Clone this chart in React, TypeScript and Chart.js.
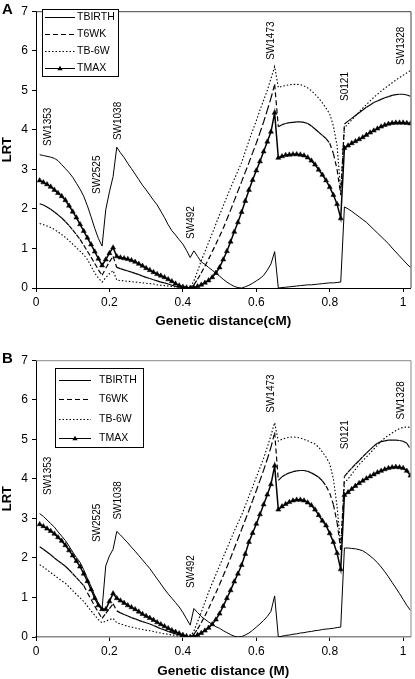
import React, { useEffect, useRef } from "react";
import { Chart, registerables } from "chart.js";

Chart.register(...registerables);

const FONT = "'Liberation Sans', Arial, Helvetica, sans-serif";
Chart.defaults.font.family = FONT;

// genetic distance grid
const distance = [
  0.01, 0.02, 0.03, 0.04, 0.05, 0.06, 0.07, 0.08, 0.09, 0.1,
  0.11, 0.12, 0.13, 0.14, 0.15, 0.16, 0.17, 0.18, 0.19, 0.2,
  0.21, 0.22, 0.23, 0.24, 0.25, 0.26, 0.27, 0.28, 0.29, 0.3,
  0.31, 0.32, 0.33, 0.34, 0.35, 0.36, 0.37, 0.38, 0.39, 0.4,
  0.41, 0.42, 0.43, 0.44, 0.45, 0.46, 0.47, 0.48, 0.49, 0.5,
  0.51, 0.52, 0.53, 0.54, 0.55, 0.56, 0.57, 0.58, 0.59, 0.6,
  0.61, 0.62, 0.63, 0.64, 0.65, 0.66, 0.67, 0.68, 0.69, 0.7,
  0.71, 0.72, 0.73, 0.74, 0.75, 0.76, 0.77, 0.78, 0.79, 0.8,
  0.81, 0.82, 0.83, 0.84, 0.85, 0.86, 0.87, 0.88, 0.89, 0.9,
  0.91, 0.92, 0.93, 0.94, 0.95, 0.96, 0.97, 0.98, 0.99, 1.0,
  1.01, 1.02,
];

const seriesNames = ["TBIRTH", "T6WK", "TB-6W", "TMAX"];

// Panel A (cM)
const aTBIRTH = [
  3.37, 3.35, 3.33, 3.31, 3.28, 3.22, 3.12, 3.02, 2.92, 2.80,
  2.65, 2.50, 2.32, 2.08, 1.80, 1.51, 1.25, 1.06, 1.98, 2.43,
  2.82, 3.56, 3.42, 3.30, 3.15, 3.02, 2.88, 2.74, 2.60, 2.48,
  2.35, 2.22, 2.10, 1.94, 1.78, 1.60, 1.45, 1.34, 1.22, 1.11,
  0.95, 0.77, 0.94, 0.80, 0.66, 0.60, 0.52, 0.45, 0.37, 0.30,
  0.22, 0.15, 0.09, 0.04, 0.01, 0.00, 0.03, 0.07, 0.12, 0.18,
  0.24, 0.32, 0.45, 0.61, 0.92, 0.00, 0.01, 0.02, 0.03, 0.04,
  0.05, 0.06, 0.07, 0.08, 0.08, 0.09, 0.10, 0.11, 0.12, 0.13,
  0.13, 0.14, 0.15, 2.05, 2.00, 1.94, 1.87, 1.80, 1.73, 1.66,
  1.57, 1.48, 1.39, 1.30, 1.21, 1.12, 1.01, 0.91, 0.81, 0.71,
  0.61, 0.52,
];
const aT6WK = [
  2.13, 2.10, 2.05, 1.99, 1.92, 1.85, 1.77, 1.68, 1.58, 1.47,
  1.35, 1.23, 1.08, 0.93, 0.78, 0.62, 0.46, 0.32, 0.50, 0.66,
  0.80, 0.52, 0.49, 0.46, 0.43, 0.40, 0.37, 0.34, 0.30, 0.27,
  0.24, 0.21, 0.18, 0.15, 0.13, 0.10, 0.07, 0.04, 0.02, 0.01,
  0.00, 0.00, 0.08, 0.22, 0.38, 0.55, 0.73, 0.92, 1.11, 1.31,
  1.51, 1.74, 1.97, 2.21, 2.45, 2.69, 2.93, 3.17, 3.42, 3.66,
  3.93, 4.20, 4.50, 4.80, 5.15, 4.08, 4.13, 4.16, 4.18, 4.19,
  4.20, 4.20, 4.19, 4.16, 4.10, 4.02, 3.94, 3.86, 3.78, 3.66,
  3.40, 3.00, 2.35, 4.15, 4.22, 4.29, 4.36, 4.43, 4.50, 4.57,
  4.63, 4.69, 4.73, 4.77, 4.81, 4.84, 4.87, 4.89, 4.90, 4.90,
  4.88, 4.85,
];
const aTB6W = [
  1.63, 1.60, 1.57, 1.53, 1.48, 1.42, 1.35, 1.28, 1.20, 1.11,
  1.02, 0.93, 0.84, 0.72, 0.55, 0.38, 0.25, 0.15, 0.26, 0.36,
  0.44, 0.20, 0.19, 0.18, 0.17, 0.16, 0.15, 0.14, 0.13, 0.12,
  0.11, 0.10, 0.08, 0.07, 0.06, 0.05, 0.04, 0.03, 0.02, 0.01,
  0.00, 0.00, 0.18, 0.42, 0.69, 0.92, 1.15, 1.38, 1.62, 1.85,
  2.08, 2.31, 2.53, 2.75, 2.96, 3.17, 3.45, 3.72, 3.98, 4.23,
  4.50, 4.75, 5.00, 5.30, 5.60, 5.07, 5.10, 5.12, 5.14, 5.15,
  5.15, 5.14, 5.11, 5.06, 4.99, 4.90, 4.80, 4.68, 4.55, 4.40,
  4.10, 3.60, 2.45, 4.05, 4.15, 4.25, 4.35, 4.45, 4.55, 4.64,
  4.73, 4.82, 4.90, 4.98, 5.05, 5.12, 5.19, 5.26, 5.32, 5.38,
  5.44, 5.50,
];
const aTMAX = [
  2.72, 2.67, 2.62, 2.56, 2.48, 2.40, 2.32, 2.22, 2.08, 1.93,
  1.78, 1.61, 1.44, 1.27, 1.10, 0.92, 0.74, 0.57, 0.72, 0.88,
  1.02, 0.80, 0.77, 0.75, 0.73, 0.70, 0.66, 0.61, 0.56, 0.50,
  0.45, 0.40, 0.35, 0.31, 0.27, 0.22, 0.17, 0.11, 0.06, 0.03,
  0.01, 0.00, 0.01, 0.04, 0.08, 0.13, 0.19, 0.27, 0.38, 0.52,
  0.72, 0.93, 1.17, 1.42, 1.66, 1.92, 2.20, 2.48, 2.73, 2.97,
  3.20, 3.45, 3.70, 3.95, 4.43, 3.29, 3.33, 3.36, 3.37, 3.38,
  3.38, 3.37, 3.35, 3.30, 3.22, 3.12, 2.99, 2.86, 2.72, 2.55,
  2.35, 2.12, 1.76, 3.54, 3.60, 3.66, 3.71, 3.76, 3.81, 3.87,
  3.93, 3.98, 4.03, 4.08, 4.12, 4.15, 4.17, 4.18, 4.18, 4.18,
  4.17, 4.16,
];

// Panel B (M)
const bTBIRTH = [
  3.12, 3.05, 2.96, 2.87, 2.78, 2.66, 2.55, 2.44, 2.30, 2.15,
  2.01, 1.89, 1.70, 1.48, 1.28, 1.05, 0.85, 0.72, 1.80, 2.05,
  2.22, 2.67, 2.58, 2.48, 2.38, 2.27, 2.17, 2.06, 1.95, 1.84,
  1.73, 1.60, 1.47, 1.34, 1.21, 1.09, 0.98, 0.87, 0.76, 0.62,
  0.46, 0.30, 0.72, 0.62, 0.52, 0.45, 0.38, 0.32, 0.26, 0.22,
  0.16, 0.11, 0.06, 0.02, 0.00, 0.01, 0.05, 0.10, 0.17, 0.25,
  0.33, 0.42, 0.52, 0.65, 1.04, 0.00, 0.02, 0.04, 0.05, 0.07,
  0.08, 0.10, 0.11, 0.13, 0.14, 0.16, 0.17, 0.19, 0.20, 0.21,
  0.22, 0.24, 0.25, 2.25, 2.25, 2.24, 2.23, 2.21, 2.18, 2.12,
  2.05, 1.97, 1.88, 1.77, 1.65, 1.52, 1.38, 1.24, 1.10, 0.95,
  0.80, 0.67,
];
const bT6WK = [
  2.28, 2.22, 2.15, 2.08, 2.00, 1.93, 1.86, 1.79, 1.70, 1.60,
  1.50, 1.40, 1.30, 1.12, 0.95, 0.78, 0.62, 0.47, 0.60, 0.72,
  0.84, 0.66, 0.61, 0.57, 0.53, 0.49, 0.46, 0.42, 0.39, 0.36,
  0.33, 0.29, 0.25, 0.21, 0.18, 0.14, 0.11, 0.08, 0.05, 0.03,
  0.01, 0.00, 0.07, 0.20, 0.36, 0.53, 0.72, 0.92, 1.12, 1.33,
  1.55, 1.77, 2.00, 2.24, 2.48, 2.72, 2.96, 3.20, 3.45, 3.70,
  3.96, 4.22, 4.50, 4.80, 5.17, 3.96, 4.05, 4.11, 4.15, 4.18,
  4.20, 4.21, 4.21, 4.19, 4.15, 4.10, 4.04, 3.95, 3.82, 3.64,
  3.35, 2.90, 2.20, 4.06, 4.17, 4.27, 4.37, 4.46, 4.56, 4.65,
  4.74, 4.83, 4.90, 4.94, 4.96, 4.98, 4.98, 4.98, 4.97, 4.95,
  4.90, 4.75,
];
const bTB6W = [
  1.83, 1.77, 1.70, 1.63, 1.56, 1.49, 1.42, 1.36, 1.27, 1.17,
  1.08, 0.99, 0.90, 0.78, 0.66, 0.55, 0.44, 0.36, 0.40, 0.44,
  0.47, 0.36, 0.33, 0.30, 0.27, 0.25, 0.23, 0.21, 0.19, 0.17,
  0.16, 0.14, 0.12, 0.10, 0.08, 0.07, 0.05, 0.04, 0.02, 0.01,
  0.00, 0.00, 0.15, 0.38, 0.62, 0.88, 1.13, 1.36, 1.58, 1.80,
  2.02, 2.24, 2.46, 2.68, 2.88, 3.08, 3.32, 3.56, 3.80, 4.04,
  4.28, 4.52, 4.80, 5.10, 5.42, 4.95, 5.00, 5.03, 5.05, 5.06,
  5.05, 5.03, 5.00, 4.96, 4.92, 4.88, 4.80, 4.68, 4.55, 4.38,
  4.00, 3.30, 2.30, 3.89, 4.00, 4.12, 4.24, 4.36, 4.46, 4.55,
  4.65, 4.75, 4.85, 4.95, 5.03, 5.10, 5.16, 5.22, 5.27, 5.30,
  5.31, 5.30,
];
const bTMAX = [
  2.85, 2.80, 2.74, 2.68, 2.61, 2.52, 2.43, 2.32, 2.19, 2.06,
  1.92, 1.78, 1.60, 1.41, 1.20, 0.98, 0.80, 0.70, 0.70, 0.90,
  1.10, 0.98, 0.92, 0.86, 0.80, 0.75, 0.70, 0.64, 0.58, 0.53,
  0.48, 0.43, 0.37, 0.32, 0.27, 0.22, 0.17, 0.13, 0.09, 0.05,
  0.02, 0.00, 0.01, 0.05, 0.10, 0.16, 0.23, 0.32, 0.44, 0.59,
  0.78, 0.98, 1.18, 1.40, 1.60, 1.82, 2.10, 2.40, 2.63, 2.86,
  3.10, 3.35, 3.60, 3.86, 4.33, 3.22, 3.30, 3.36, 3.41, 3.45,
  3.47, 3.47, 3.45, 3.40, 3.33, 3.22, 3.08, 2.94, 2.82, 2.62,
  2.40, 2.12, 1.71, 3.59, 3.66, 3.74, 3.82, 3.89, 3.95, 4.01,
  4.06, 4.11, 4.16, 4.20, 4.24, 4.27, 4.29, 4.30, 4.29, 4.27,
  4.20, 4.08,
];

// marker annotations
const markerNames = ["SW1353", "SW2525", "SW1038", "SW492", "SW1473", "S0121", "SW1328"];
const markerDistance = [0.033, 0.168, 0.223, 0.424, 0.641, 0.842, 0.995];
const markerLabelLrtA = [3.59, 2.38, 3.74, 1.24, 5.77, 4.73, 5.64];
const markerLabelLrtB = [3.59, 2.4, 2.97, 1.24, 5.67, 4.75, 5.5];

const xTickValues = [0, 0.2, 0.4, 0.6, 0.8, 1];

type LegendBox = { x: number; y: number; w: number; h: number; rows: number[]; lineX0: number; lineX1: number; textX: number };

type PanelProps = {
  letter: string;
  xTitle: string;
  height: number;
  titlePadBottom: number;
  values: number[][];
  labelLrt: number[];
  legend: LegendBox;
  frameColor: string;
  xBorderColor: string;
  xBorderWidth: number;
};

const dashFor = [[], [5, 3], [1.5, 2], []];
const widthFor = [1, 1.2, 1.1, 1.5];

function drawTriangle(ctx: CanvasRenderingContext2D, x: number, y: number, r: number) {
  ctx.beginPath();
  ctx.moveTo(x, y - r);
  ctx.lineTo(x + r * 0.95, y + r * 0.6);
  ctx.lineTo(x - r * 0.95, y + r * 0.6);
  ctx.closePath();
  ctx.fill();
}

function Panel(props: PanelProps) {
  const ref = useRef<HTMLCanvasElement | null>(null);

  useEffect(() => {
    if (!ref.current) return;
    const { letter, xTitle, height, titlePadBottom, values, labelLrt, legend, frameColor, xBorderColor, xBorderWidth } = props;

    const overlay = {
      id: "overlay",
      afterDraw(chart: any) {
        const { ctx, chartArea: a, scales } = chart;
        const xs = scales.x;
        const ys = scales.y;
        ctx.save();
        // frame (top + right)
        ctx.strokeStyle = frameColor;
        ctx.lineWidth = 1;
        ctx.setLineDash([]);
        ctx.beginPath();
        ctx.moveTo(a.left, a.top + 0.5);
        ctx.lineTo(a.right + 0.5, a.top + 0.5);
        ctx.lineTo(a.right + 0.5, a.bottom);
        ctx.stroke();

        // marker labels
        ctx.fillStyle = "#000";
        ctx.font = `10px ${FONT}`;
        ctx.textAlign = "left";
        ctx.textBaseline = "middle";
        markerNames.forEach((name, i) => {
          const px = xs.getPixelForValue(markerDistance[i]);
          const py = ys.getPixelForValue(labelLrt[i]);
          ctx.save();
          ctx.translate(px, py);
          ctx.rotate(-Math.PI / 2);
          ctx.fillText(name, 0, 0);
          ctx.restore();
        });

        // legend
        ctx.fillStyle = "#fff";
        ctx.fillRect(legend.x, legend.y, legend.w, legend.h);
        ctx.strokeStyle = "#000";
        ctx.lineWidth = 1;
        ctx.strokeRect(legend.x + 0.5, legend.y + 0.5, legend.w, legend.h);
        ctx.font = `10.5px ${FONT}`;
        ctx.textBaseline = "middle";
        chart.data.datasets.forEach((ds: any, i: number) => {
          const yy = legend.rows[i] + 0.5;
          ctx.strokeStyle = "#000";
          ctx.lineWidth = i === 3 ? 1 : widthFor[i];
          ctx.setLineDash(dashFor[i]);
          ctx.beginPath();
          ctx.moveTo(legend.lineX0, yy);
          ctx.lineTo(legend.lineX1, yy);
          ctx.stroke();
          ctx.setLineDash([]);
          if (i === 3) {
            ctx.fillStyle = "#000";
            drawTriangle(ctx, (legend.lineX0 + legend.lineX1) / 2, yy, 2.8);
          }
          ctx.fillStyle = "#000";
          ctx.fillText(ds.label, legend.textX, yy);
        });

        // panel letter
        ctx.font = `bold 15px ${FONT}`;
        ctx.textBaseline = "alphabetic";
        ctx.fillText(letter, 2, 14);
        ctx.restore();
      },
    };

    const datasets = seriesNames.map((name, i) => {
      const base: any = {
        label: name,
        data: distance.map((d, k) => ({ x: d, y: values[i][k] })),
        borderColor: "#000",
        backgroundColor: "#000",
        borderWidth: widthFor[i],
        borderDash: dashFor[i],
        pointRadius: 0,
        tension: 0,
        fill: false,
      };
      if (i === 1) {
        base.segment = {
          borderDashOffset: (c: any) => (c.p0DataIndex % 2 ? 0 : 0.001),
        };
      }
      if (i === 3) {
        base.pointRadius = 2.9;
        base.pointStyle = "triangle";
        base.pointBackgroundColor = "#000";
        base.pointBorderColor = "#000";
        base.pointBorderWidth = 0.5;
      }
      return base;
    });

    const chart = new Chart(ref.current, {
      type: "line",
      data: { datasets },
      options: {
        responsive: false,
        animation: false,
        events: [],
        layout: { padding: { left: 0, right: 3, top: 5, bottom: 0 } },
        plugins: { legend: { display: false }, tooltip: { enabled: false } },
        scales: {
          x: {
            type: "linear",
            min: 0,
            max: 1.02,
            afterBuildTicks: (s: any) => {
              s.ticks = xTickValues.map((v) => ({ value: v }));
            },
            afterFit: (s: any) => {
              s.height = height - 288;
            },
            ticks: {
              callback: (v: any) => String(v),
              autoSkip: false,
              maxRotation: 0,
              color: "#000",
              padding: 3,
              font: { size: 12, family: FONT },
            },
            grid: { display: true, drawOnChartArea: false, drawTicks: true, tickLength: 4, tickColor: "#000", color: "#000" },
            border: { display: true, color: xBorderColor, width: xBorderWidth },
            title: {
              display: true,
              text: xTitle,
              color: "#000",
              font: { size: 13.5, weight: "bold", family: FONT },
              padding: { top: 0, bottom: titlePadBottom },
            },
          },
          y: {
            type: "linear",
            min: 0,
            max: 7,
            afterFit: (s: any) => {
              s.width = 36;
            },
            ticks: { stepSize: 1, color: "#000", padding: 4, font: { size: 12, family: FONT } },
            grid: { display: true, drawOnChartArea: false, drawTicks: true, tickLength: 4, tickColor: "#000", color: "#000" },
            border: { display: true, color: "#000", width: 1 },
            title: {
              display: true,
              text: "LRT",
              color: "#000",
              font: { size: 13, weight: "bold", family: FONT },
              padding: { top: 0, bottom: 0 },
            },
          },
        },
      } as any,
      plugins: [overlay],
    });
    return () => chart.destroy();
  }, []);

  return <canvas ref={ref} width={415} height={props.height} style={{ display: "block", width: 415, height: props.height }} />;
}

export default function App() {
  return (
    <div style={{ position: "absolute", left: 0, top: 0, width: 415, height: 679, overflow: "hidden", background: "#fff" }}>
      <Panel
        letter="A"
        xTitle="Genetic distance(cM)"
        height={349}
        titlePadBottom={20}
        values={[aTBIRTH, aT6WK, aTB6W, aTMAX]}
        labelLrt={markerLabelLrtA}
        legend={{ x: 42, y: 9, w: 76, h: 67, rows: [17, 34, 51, 68], lineX0: 45, lineX1: 75, textX: 77 }}
        frameColor="#444"
        xBorderColor="#000"
        xBorderWidth={1}
      />
      <Panel
        letter="B"
        xTitle="Genetic distance (M)"
        height={330}
        titlePadBottom={0}
        values={[bTBIRTH, bT6WK, bTB6W, bTMAX]}
        labelLrt={markerLabelLrtB}
        legend={{ x: 55, y: 19, w: 88, h: 79, rows: [31, 50, 70, 89], lineX0: 59, lineX1: 91, textX: 99 }}
        frameColor="#888"
        xBorderColor="#888"
        xBorderWidth={1.5}
      />
    </div>
  );
}
